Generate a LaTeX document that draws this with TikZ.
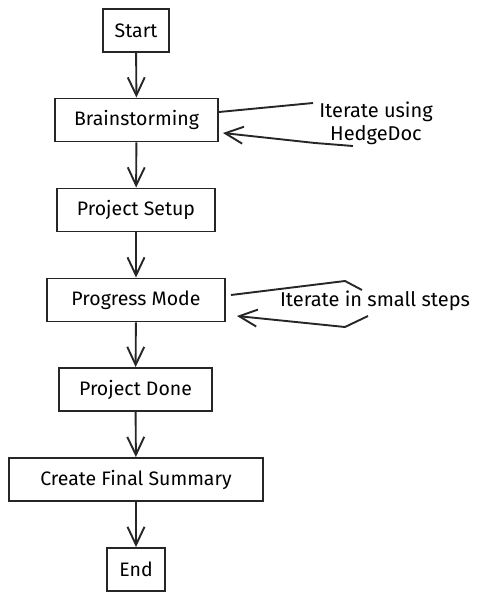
\documentclass[tikz,border=0pt]{standalone}
\usepackage{fontspec}
\setmainfont{Fira Sans}
\usetikzlibrary{arrows.meta}
\tikzset{
  stepbox/.style={draw=black!85, line width=1.9pt, shape=rectangle, minimum height=43pt, inner sep=0pt, font=\fontsize{19.5}{22}\selectfont},
  flow/.style={draw=black!85, line width=1.9pt, -{Straight Barb[length=18pt,width=17pt]}},
  loopline/.style={draw=black!85, line width=1.9pt, line join=round},
  note/.style={font=\fontsize{20}{23}\selectfont, align=center, inner sep=0pt},
}
\begin{document}
\begin{tikzpicture}[x=1pt, y=-1pt]
	% Boxes, loops and arrows:
	\useasboundingbox (0,0) rectangle (485,600);
	\node[stepbox, minimum width=66pt] (start) at (136, 30.5){Start};
	\node[stepbox, minimum width=163pt] (brain) at (136.5, 120){Brainstorming};
	\node[stepbox, minimum width=158pt] (setup) at (136, 210){Project Setup};
	\node[stepbox, minimum width=178pt] (prog) at (136, 300){Progress Mode};
	\node[stepbox, minimum width=153pt] (done) at (135.5, 389.5){Project Done};
	\node[stepbox, minimum width=254pt] (summary) at (136, 479.5){Create Final Summary};
	\node[stepbox, minimum width=58pt] (end) at (136, 569.5){End};
	\draw[flow] (start) -- (brain);
	\draw[flow] (brain) -- (setup);
	\draw[flow] (setup) -- (prog);
	\draw[flow] (prog) -- (done);
	\draw[flow] (done) -- (summary);
	\draw[flow] (summary) -- (end);
	\node[note] (iterA) at (376, 123){Iterate using\\HedgeDoc};
	\draw[loopline] ([yshift=8pt]brain.east) -- (313, 103);
	\draw[loopline, flow] (353, 146) -- (315, 143) -- ([xshift=4pt, yshift=-13pt]brain.east);
	\node[note] (iterB) at (375, 301){Iterate in small steps};
	\draw[loopline] ([xshift=5pt, yshift=5pt]prog.east) -- (345, 281) -- (362, 290);
	\draw[loopline, flow] (368, 316) -- (345, 327) -- ([xshift=11pt, yshift=-16pt]prog.east);
\end{tikzpicture}
\end{document}
